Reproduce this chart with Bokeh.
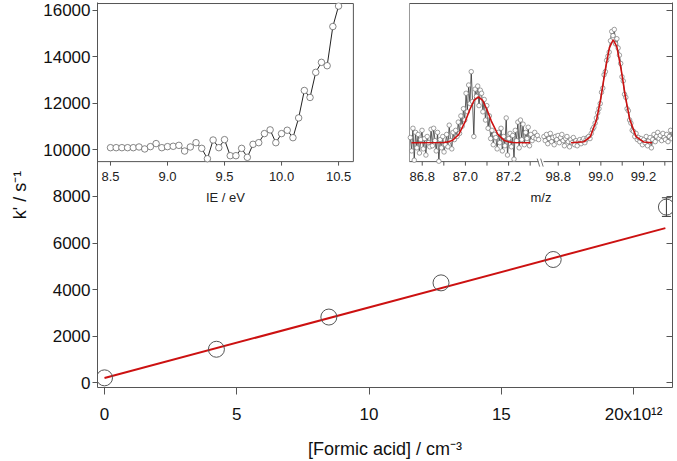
import numpy as np
from bokeh.plotting import figure
from bokeh.models import Range1d, LinearAxis, FixedTicker, ColumnDataSource, Whisker, TeeHead
from bokeh.embed import file_html
from bokeh.resources import INLINE
from bokeh.core.properties import value

# ---------------- main data ----------------
conc = [0.0, 4.23, 8.48, 12.72, 16.96, 21.24]          # 10^12 cm^-3
kprime = [200, 1430, 2815, 4285, 5290, 7545]            # s^-1
kerr = [60, 60, 60, 60, 60, 400]
fit_conc = [0.0, 21.2]
fit_k = [190, 6640]
x_ticks = [0, 5, 10, 15, 20]
x_tick_labels = ["0", "5", "10", "15", "20x10¹²"]
y_ticks = [0, 2000, 4000, 6000, 8000, 10000, 12000, 14000, 16000]

# ---------------- IE scan inset ----------------
ie = [8.50, 8.55, 8.60, 8.65, 8.70, 8.75, 8.80, 8.85, 8.90, 8.95, 9.00, 9.05, 9.10, 9.15,
      9.20, 9.25, 9.30, 9.35, 9.40, 9.45, 9.50, 9.55, 9.60, 9.65, 9.70, 9.75, 9.80, 9.85,
      9.90, 9.95, 10.00, 10.05, 10.10, 10.15, 10.20, 10.25, 10.30, 10.35, 10.40, 10.45, 10.50]
ie_signal = [10100, 10100, 10100, 10100, 10100, 10130, 10045, 10145, 10275, 10100, 10145,
             10160, 10200, 9955, 10130, 10315, 10070, 9625, 10430, 10100, 10445, 9755, 9755,
             10070, 9685, 10245, 10315, 10705, 10865, 10315, 10705, 10850, 10530, 11380,
             12560, 12260, 13340, 13770, 13625, 15310, 16190]
ie_ticks = [8.5, 9.0, 9.5, 10.0, 10.5]
ie_tick_labels = ["8.5", "9.0", "9.5", "10.0", "10.5"]

# ---------------- mass spectrum inset ----------------
mz1_start, mz2_start, mz_step = 86.745, 98.733, 0.006
ms1 = [5, -8, 14, -17, 10, -5, 8, -10, 3, 12, -6, 4, -12, 6, 0, -4, 13, -3, 14, 2,
       -8, 10, -18, 3, -5, 6, -9, -2, 8, -4, 17, 2, -6, 10, 3, 12, 6, 20, 9, 26,
       16, 33, 22, 48, 30, 56, 38, 69, 40, 6, 52, 45, 55, 36, 51, 48, 30, 42, 22, 36,
       14, 26, 4, 12, -2, 8, 5, -6, 10, 0, 14, -8, 6, -3, 24, -12, 4, 9, -4, 7,
       -16, 12, 2, 20, -5, 22, 3, 18, -2, 10, 4, 15, -3, 8, 2, 5, 10, 4, 7, 3]
ms2 = [6, 2, 8, -1, 4, 9, 1, 5, -2, 6, 3, 7, 0, 5, 8, 2, -3, 4, 6, 1,
       -4, 3, 0, 5, -2, 2, -3, 1, 3, -1, 2, 4, 0, 3, 5, 6, 4, 9, 13, 15,
       19, 24, 29, 33, 38, 49, 53, 66, 69, 80, 84, 88, 99, 108, 104, 110, 96, 101, 92, 85,
       77, 64, 60, 47, 44, 33, 31, 22, 19, 12, 11, 6, 9, 3, 5, 1, 4, -2, 3, 0,
       6, -3, 2, 5, -5, 3, 8, 1, 6, 10, 4, 7, 2, 9, 5, 3, 8, 1, 6, 12, 4]
fit1_mz = [86.75, 86.90, 86.92, 86.94, 86.97, 87.00, 87.02, 87.04, 87.06, 87.08, 87.10,
           87.12, 87.15, 87.18, 87.20, 87.22, 87.30]
fit1_int = [0, 0.2, 0.8, 2.2, 8.2, 21, 32, 41, 44.5, 41, 32, 21, 8.2, 2.2, 0.8, 0.2, 0]
fit2_mz = [98.86, 98.92, 98.95, 98.98, 99.00, 99.02, 99.04, 99.058, 99.075, 99.095,
           99.115, 99.135, 99.165, 99.20, 99.24]
fit2_int = [0, 0.9, 5.6, 22.3, 43.6, 70, 92.3, 100, 93.1, 71.3, 44.8, 23.1, 5.9, 0.7, 0]
mz_ticks1 = [86.8, 86.9, 87.0, 87.1, 87.2, 87.3]
mz_ticks2 = [98.8, 98.9, 99.0, 99.1, 99.2, 99.3]
mz_labels1 = {86.8: "86.8", 87.0: "87.0", 87.2: "87.2"}
mz_labels2 = {98.8: "98.8", 99.0: "99.0", 99.2: "99.2"}

# ---------------- layout constants ----------------
X0, X1 = -0.265, 21.47
Y0, Y1 = -215, 16344
INSET_BOTTOM, INSET_TOP = 9500, 16300
IE_LIM, IE_BOX = (8.386, 10.63), (0.0, 0.445)
MS1_LIM, MS1_BOX = (86.741, 87.34), (0.5426, 0.7675)
MS2_LIM, MS2_BOX = (98.731, 99.336), (0.7757, 1.0)
MS_YLIM = (-18.4, 135.2)
W, H = 677, 461
ML, MR, MT, MB = 97, 5, 2, 74
FRAME_W, FRAME_H = W - ML - MR, H - MB - MT
PX_X = (X1 - X0) / FRAME_W
PX_Y = (Y1 - Y0) / FRAME_H
FONT = value("Liberation Sans")
AX = "#555555"


def ext_range(lim, box):
    a, b = lim
    f0, f1 = box
    w = (b - a) / (f1 - f0)
    s = a - f0 * w
    return Range1d(s, s + w)


def fx(f):
    return X0 + f * (X1 - X0)


yb = (INSET_BOTTOM - Y0) / (Y1 - Y0)
yt = (INSET_TOP - Y0) / (Y1 - Y0)

p = figure(width=W, height=H, output_backend="svg", toolbar_location=None,
           x_range=Range1d(X0, X1), y_range=Range1d(Y0, Y1),
           min_border_left=ML, min_border_right=MR, min_border_top=MT, min_border_bottom=MB,
           background_fill_color="white", border_fill_color="white")
p.outline_line_color = None
p.grid.visible = False
p.extra_x_ranges = {"ie": ext_range(IE_LIM, IE_BOX),
                    "mz1": ext_range(MS1_LIM, MS1_BOX),
                    "mz2": ext_range(MS2_LIM, MS2_BOX)}
p.extra_y_ranges = {"ms": ext_range(MS_YLIM, (yb, yt))}

# axes
xa = p.xaxis[0]
xa.ticker = FixedTicker(ticks=x_ticks)
xa.major_label_overrides = {t: l for t, l in zip(x_ticks, x_tick_labels)}
xa.axis_label = "[Formic acid] / cm⁻³"
ya = p.yaxis[0]
ya.ticker = FixedTicker(ticks=y_ticks)
ya.axis_label = "k' / s⁻¹"
for ax, tout, so in ((xa, 7, 10), (ya, 5, 2)):
    ax.axis_line_color = AX
    ax.major_tick_line_color = AX
    ax.major_tick_out = tout
    ax.major_tick_in = 0
    ax.minor_tick_line_color = None
    ax.major_label_text_font = "Liberation Sans"
    ax.major_label_text_font_size = "17px"
    ax.major_label_text_color = "#111111"
    ax.major_label_standoff = so
    ax.axis_label_text_font = "Liberation Sans"
    ax.axis_label_text_font_size = "18px"
    ax.axis_label_text_font_style = "normal"
    ax.axis_label_text_color = "#111111"
xa.axis_label_standoff = 12
ya.axis_label_standoff = 10

ra = LinearAxis(ticker=FixedTicker(ticks=y_ticks), major_label_text_font_size="1px",
                major_label_text_color=None,
                major_label_standoff=0, major_tick_in=6, major_tick_out=0,
                minor_tick_line_color=None, axis_line_color=AX, major_tick_line_color=AX)
p.add_layout(ra, "right")

# main data
p.line(fit_conc, fit_k, line_color="#cc1111", line_width=2)
big = [i for i, e in enumerate(kerr) if e > 150]
src = ColumnDataSource(dict(x=[conc[i] for i in big],
                            lower=[kprime[i] - kerr[i] for i in big],
                            upper=[kprime[i] + kerr[i] for i in big]))
p.add_layout(Whisker(source=src, base="x", lower="lower", upper="upper", dimension="height",
                     line_color="#333333",
                     upper_head=TeeHead(size=9, line_color="#333333"),
                     lower_head=TeeHead(size=9, line_color="#333333")))
p.scatter(conc, kprime, marker="circle", size=16, fill_color=None, line_color="#555555")

# ---------- IE inset ----------
p.quad(left=[fx(IE_BOX[0])], right=[fx(IE_BOX[1])], bottom=[INSET_BOTTOM], top=[INSET_TOP],
       fill_color="white", line_color=AX, line_width=1)
tl = 4 * PX_Y
p.segment(x0=ie_ticks, y0=[INSET_BOTTOM] * len(ie_ticks), x1=ie_ticks,
          y1=[INSET_BOTTOM - tl] * len(ie_ticks), x_range_name="ie", line_color=AX)
p.text(x=ie_ticks, y=[INSET_BOTTOM] * len(ie_ticks), text=ie_tick_labels, x_range_name="ie",
       text_align="center", text_baseline="top", y_offset=10, text_font=FONT,
       text_font_size="13px", text_color="#222222")
p.text(x=[sum(IE_LIM) / 2], y=[INSET_BOTTOM], text=["IE / eV"], x_range_name="ie",
       text_align="center", text_baseline="top", y_offset=28, text_font=FONT,
       text_font_size="13px", text_color="#222222")
p.line(ie, ie_signal, x_range_name="ie", line_color="#222222", line_width=1)
p.scatter(ie, ie_signal, x_range_name="ie", marker="circle", size=6.5, fill_color="white",
          line_color="#666666", line_width=0.8)

# ---------- MS inset ----------
p.quad(left=[fx(MS1_BOX[0])], right=[fx(MS2_BOX[1])], bottom=[INSET_BOTTOM], top=[INSET_TOP],
       fill_color="white", line_color=None)
p.segment(x0=[fx(MS1_BOX[0]), fx(MS1_BOX[0])], y0=[INSET_BOTTOM, INSET_TOP],
          x1=[fx(MS1_BOX[0]), fx(MS2_BOX[1])], y1=[INSET_TOP, INSET_TOP],
          line_color=["#999999", AX], line_width=1)
p.segment(x0=[fx(MS1_BOX[0]), fx(MS2_BOX[0])], y0=[INSET_BOTTOM, INSET_BOTTOM],
          x1=[fx(MS1_BOX[1]), fx(MS2_BOX[1])], y1=[INSET_BOTTOM, INSET_BOTTOM],
          line_color=AX, line_width=1)
bx = fx((MS1_BOX[1] + MS2_BOX[0]) / 2)
p.segment(x0=[bx - 4 * PX_X, bx - 0.5 * PX_X], y0=[INSET_BOTTOM + 3 * PX_Y] * 2,
          x1=[bx - 1.5 * PX_X, bx + 2 * PX_X], y1=[INSET_BOTTOM - 5 * PX_Y] * 2,
          line_color="#777777", line_width=1)
for rng, ticks, labels in (("mz1", mz_ticks1, mz_labels1), ("mz2", mz_ticks2, mz_labels2)):
    p.segment(x0=ticks, y0=[INSET_BOTTOM] * len(ticks), x1=ticks,
              y1=[INSET_BOTTOM - tl] * len(ticks), x_range_name=rng, line_color=AX)
    lt = list(labels.keys())
    p.text(x=lt, y=[INSET_BOTTOM] * len(lt), text=list(labels.values()), x_range_name=rng,
           text_align="center", text_baseline="top", y_offset=10, text_font=FONT,
           text_font_size="13px", text_color="#222222")
p.text(x=[fx((MS1_BOX[0] + MS2_BOX[1]) / 2)], y=[INSET_BOTTOM], text=["m/z"],
       text_align="center", text_baseline="top", y_offset=28, text_font=FONT,
       text_font_size="13px", text_color="#222222")

mz1 = [round(mz1_start + i * mz_step, 4) for i in range(len(ms1))]
mz2 = [round(mz2_start + i * mz_step, 4) for i in range(len(ms2))]
for rng, xs, ys in (("mz1", mz1, ms1), ("mz2", mz2, ms2)):
    p.line(xs, ys, x_range_name=rng, y_range_name="ms", line_color="#333333", line_width=0.8)
    p.scatter(xs, ys, x_range_name=rng, y_range_name="ms", marker="circle", size=4.5,
              fill_color="white", line_color="#777777", line_width=0.7)
p.line(fit1_mz, fit1_int, x_range_name="mz1", y_range_name="ms", line_color="#cc1111",
       line_width=1.6)
p.line(fit2_mz, fit2_int, x_range_name="mz2", y_range_name="ms", line_color="#cc1111",
       line_width=1.6)

open("out.html", "w").write(file_html(p, INLINE))
